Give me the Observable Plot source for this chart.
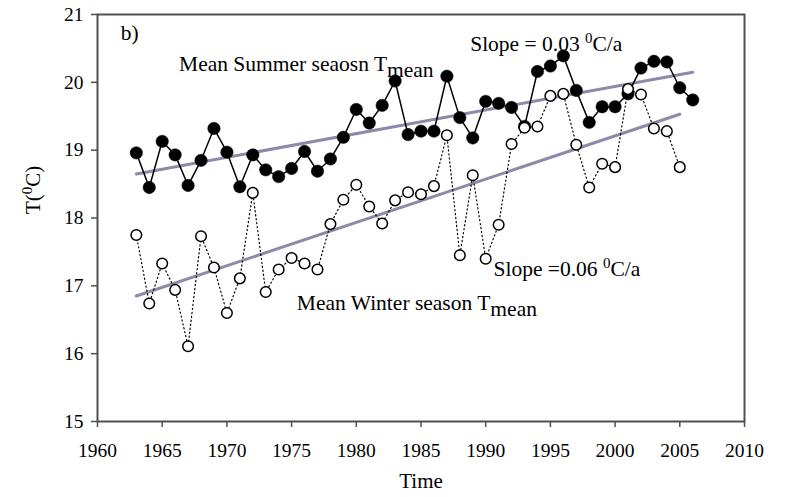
<!DOCTYPE html>
<html>
<head>
<meta charset="utf-8">
<script src="https://cdn.jsdelivr.net/npm/d3@7"></script>
<script src="https://cdn.jsdelivr.net/npm/@observablehq/plot@0.6"></script>
<style>
  body { margin: 0; background: #fff; }
  svg { font-family: "Liberation Serif", "Times New Roman", serif; }
</style>
</head>
<body>
<div id="chart"></div>
<script>
// Seasonal mean temperature, summer and winter
const summerYears = [1963,1964,1965,1966,1967,1968,1969,1970,1971,1972,1973,1974,1975,1976,1977,1978,1979,1980,1981,1982,1983,1984,1985,1986,1987,1988,1989,1990,1991,1992,1993,1994,1995,1996,1997,1998,1999,2000,2001,2002,2003,2004,2005,2006];
const summerT = [18.96,18.45,19.13,18.93,18.48,18.85,19.32,18.97,18.46,18.93,18.71,18.61,18.73,18.98,18.69,18.87,19.19,19.60,19.40,19.66,20.02,19.23,19.28,19.28,20.09,19.48,19.18,19.72,19.69,19.63,19.35,20.16,20.24,20.39,19.88,19.41,19.64,19.64,19.83,20.21,20.31,20.30,19.92,19.74];

const winterYears = [1963,1964,1965,1966,1967,1968,1969,1970,1971,1972,1973,1974,1975,1976,1977,1978,1979,1980,1981,1982,1983,1984,1985,1986,1987,1988,1989,1990,1991,1992,1993,1994,1995,1996,1997,1998,1999,2000,2001,2002,2003,2004,2005];
const winterT = [17.75,16.74,17.33,16.94,16.11,17.73,17.27,16.60,17.11,18.37,16.91,17.24,17.41,17.33,17.24,17.91,18.27,18.49,18.17,17.92,18.26,18.38,18.35,18.47,19.22,17.45,18.63,17.40,17.90,19.09,19.33,19.35,19.80,19.83,19.08,18.45,18.80,18.75,19.90,19.82,19.32,19.28,18.75];

// Linear trend end points
const summerTrendYears = [1963, 2006];
const summerTrendT = [18.65, 20.15];
const winterTrendYears = [1963, 2005];
const winterTrendT = [16.85, 19.53];

// Axis ticks
const xTicks = [1960,1965,1970,1975,1980,1985,1990,1995,2000,2005,2010];
const yTicks = [15,16,17,18,19,20,21];

// Annotations: anchor (year, temperature), text, and trailing sub/superscript parts
const noteYears = [1961.8, 1966.3, 1988.8, 1990.6, 1975.4];
const noteT = [20.62, 20.17, 20.46, 17.14, 16.65];
const noteText = ["b)", "Mean Summer seaosn T", "Slope = 0.03", "Slope =0.06", "Mean Winter season T"];
const noteTail = ["", "sub:mean", "sup:0C/a", "sup:0C/a", "sub:mean"];

const summer = summerYears.map((y, i) => ({year: y, t: summerT[i]}));
const winter = winterYears.map((y, i) => ({year: y, t: winterT[i]}));
const summerTrend = summerTrendYears.map((y, i) => ({year: y, t: summerTrendT[i]}));
const winterTrend = winterTrendYears.map((y, i) => ({year: y, t: winterTrendT[i]}));
const notes = noteText.map((s, i) => ({year: noteYears[i], t: noteT[i], text: s}));

const axisColor = "#505050";
const trendColor = "#8c8aa8";

const chart = Plot.plot({
  width: 785,
  height: 497,
  marginLeft: 97,
  marginRight: 41,
  marginTop: 14,
  marginBottom: 76,
  x: {domain: [1960, 2010]},
  y: {domain: [15, 21]},
  style: {fontFamily: "Liberation Serif, Times New Roman, serif", fontSize: "19px", color: "#000", background: "#fff"},
  marks: [
    Plot.axisX({ticks: xTicks, tickFormat: d => String(d), tickSize: 6, tickPadding: 16, stroke: axisColor, strokeWidth: 1.5, fill: "#000", fontSize: 19.5, label: null}),
    Plot.axisY({ticks: yTicks, tickFormat: d => String(d), tickSize: 6, tickPadding: 8, stroke: axisColor, strokeWidth: 1.5, fill: "#000", fontSize: 19.5, label: null}),
    Plot.frame({stroke: axisColor, strokeWidth: 2}),
    Plot.line(summerTrend, {x: "year", y: "t", stroke: trendColor, strokeWidth: 3}),
    Plot.line(winterTrend, {x: "year", y: "t", stroke: trendColor, strokeWidth: 3}),
    Plot.line(winter, {x: "year", y: "t", stroke: "#000", strokeWidth: 1.2, strokeDasharray: "1.2,2.8"}),
    Plot.line(summer, {x: "year", y: "t", stroke: "#000", strokeWidth: 1.5}),
    Plot.dot(summer, {x: "year", y: "t", r: 6.2, fill: "#000", stroke: "#000", strokeWidth: 0.5}),
    Plot.dot(winter, {x: "year", y: "t", r: 5.3, fill: "#fff", stroke: "#000", strokeWidth: 1.5}),
    Plot.text(notes, {x: "year", y: "t", text: "text", textAnchor: "start", lineAnchor: "bottom", fontSize: 21.5, fill: "#000"}),
    Plot.text(["Time"], {frameAnchor: "bottom", dy: 66, lineAnchor: "bottom", fontSize: 21, fill: "#000"}),
    Plot.text(["T(C)"], {frameAnchor: "left", dx: -64, dy: -4, rotate: -90, fontSize: 21, fill: "#000"})
  ]
});

document.getElementById("chart").appendChild(chart);

// Rich text: subscripts and superscripts
const NS = "http://www.w3.org/2000/svg";
function span(parent, str, dy, size) {
  const t = document.createElementNS(NS, "tspan");
  t.textContent = str;
  if (dy) t.setAttribute("dy", dy);
  if (size) t.setAttribute("font-size", size);
  parent.appendChild(t);
  return t;
}
const texts = Array.from(chart.querySelectorAll("text"));
noteText.forEach((s, i) => {
  const tail = noteTail[i];
  if (!tail) return;
  const el = texts.find(t => t.textContent === s);
  if (!el) return;
  if (tail.startsWith("sub:")) {
    span(el, tail.slice(4), 6);
  } else {
    const rest = tail.slice(4);
    span(el, " ");
    span(el, rest[0], -8, 15);
    span(el, rest.slice(1), 8);
  }
});
const yl = texts.find(t => t.textContent === "T(C)");
if (yl) {
  yl.textContent = "";
  span(yl, "T(");
  span(yl, "0", -8, 15);
  span(yl, "C)", 8);
}
</script>
</body>
</html>
